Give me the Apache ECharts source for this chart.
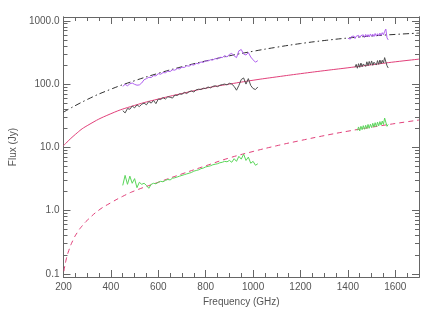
<!DOCTYPE html>
<html><head><meta charset="utf-8">
<script src="https://cdn.jsdelivr.net/npm/echarts@6/dist/echarts.min.js"></script>
<style>html,body{margin:0;padding:0;background:#fff}#c{width:436px;height:312px}</style>
</head><body><div id="c"></div>
<script>
// ---- data ----
const xMajorTicks = [200, 400, 600, 800, 1000, 1200, 1400, 1600];
const xMinorTicks = [250, 300, 350, 450, 500, 550, 650, 700, 750, 850, 900, 950, 1050, 1100, 1150, 1250, 1300, 1350, 1450, 1500, 1550, 1650];
const yMajorTicks = [0.1, 1, 10, 100, 1000];
const yMinorTicks = [0.2, 0.3, 0.4, 0.5, 0.6, 0.7, 0.8, 0.9, 2, 3, 4, 5, 6, 7, 8, 9, 20, 30, 40, 50, 60, 70, 80, 90, 200, 300, 400, 500, 600, 700, 800, 900];

const freqA = [450, 460, 470, 480, 490, 500, 510, 520, 530, 540, 550, 560, 570, 580, 590, 600, 610, 620, 630, 640, 650, 660, 670, 680, 690, 700, 710, 720, 730, 740, 750, 760, 770, 780, 790, 800, 810, 820, 830, 840, 850, 860, 870, 880, 890, 900, 910, 920, 930, 940, 950, 960, 970, 980, 990, 1000, 1010, 1020];
const freqB = [1400, 1405, 1410, 1415, 1420, 1425, 1430, 1435, 1440, 1445, 1450, 1455, 1460, 1465, 1470, 1475, 1480, 1485, 1490, 1495, 1500, 1505, 1510, 1515, 1520, 1525, 1530, 1535, 1540, 1545, 1550, 1555, 1560, 1565, 1570];

const purpleA = [92, 99, 94, 101, 104, 99, 96, 97, 104, 117, 122, 128, 127, 136, 135, 146, 143, 152, 151, 160, 158, 168, 166, 176, 174, 185, 183, 195, 192, 203, 200, 212, 210, 224, 220, 234, 232, 242, 240, 253, 250, 266, 262, 282, 268, 295, 305, 280, 262, 335, 352, 298, 288, 315, 268, 242, 222, 235];
const purpleB = [530, 560, 515, 565, 530, 575, 525, 570, 545, 590, 540, 585, 550, 600, 545, 610, 560, 605, 555, 620, 570, 615, 565, 630, 575, 625, 580, 640, 590, 650, 600, 680, 740, 540, 500];

const grayA = [38, 35, 41, 40, 45, 42, 47, 44, 48, 50, 47, 53, 50, 55, 49, 58, 57, 61, 58, 63, 62, 60, 67, 66, 70, 69, 74, 71, 76, 78, 75, 81, 83, 82, 86, 85, 90, 87, 92, 94, 91, 96, 98, 100, 97, 103, 100, 92, 80, 95, 118, 125, 100, 122, 95, 85, 82, 90];
const grayB = [185, 205, 178, 210, 184, 215, 188, 208, 222, 190, 225, 195, 228, 200, 232, 198, 222, 236, 200, 235, 205, 240, 210, 238, 215, 262, 275, 195, 180];

const greenA = [2.5, 3.6, 2.6, 3.5, 2.7, 3.2, 2.3, 2.8, 2.6, 2.7, 2.5, 2.25, 2.6, 2.7, 2.65, 2.8, 2.9, 2.85, 3.0, 3.1, 3.05, 3.25, 3.3, 3.4, 3.5, 3.6, 3.7, 3.8, 3.9, 4.0, 4.2, 4.3, 4.4, 4.6, 4.7, 4.9, 5.0, 5.1, 5.3, 5.4, 5.5, 5.7, 5.8, 6.0, 5.9, 6.2, 5.8, 6.6, 6.0, 7.2, 6.5, 7.8, 6.2, 7.0, 5.6, 6.0, 5.2, 5.5];
const greenB = [18.5, 21, 18.2, 21.5, 19, 22, 19.3, 22.3, 19.8, 23, 20, 23.2, 20.5, 24, 21, 24.5, 21.3, 25, 21.8, 25.5, 22.5, 26, 23, 29, 27, 21.5, 23];

const totalFreq = [200, 300, 400, 500, 600, 700, 800, 900, 1000, 1100, 1200, 1300, 1400, 1500, 1600, 1700];
const totalModel = [36, 57, 83, 113, 148, 188, 232, 280, 330, 383, 437, 488, 535, 576, 610, 640];
const gasFreq = [200, 250, 300, 400, 500, 600, 700, 800, 900, 1000, 1100, 1200, 1300, 1400, 1500, 1600, 1700];
const gasModel = [10.6, 16, 22, 34, 46, 58, 71, 86, 100, 115, 130, 146, 163, 181, 202, 225, 248];
const dustFreq = [202, 205, 210, 220, 240, 260, 280, 300, 350, 400, 450, 500, 600, 700, 800, 900, 1000, 1100, 1200, 1300, 1400, 1500, 1600, 1700];
const dustModel = [0.11, 0.13, 0.16, 0.22, 0.34, 0.46, 0.58, 0.7, 1.02, 1.33, 1.68, 2.05, 2.8, 3.8, 5.1, 6.8, 8.6, 10.6, 12.8, 15.3, 18.0, 20.8, 23.8, 27];

// ---- chart ----
const zip = (xs, ys) => ys.map((y, i) => [xs[i], y]);
const axisCol = '#666', textCol = '#555';
const font = 'Liberation Sans, Arial, sans-serif';

function xAx(pos, ticks, len, labels) {
  return {
    type: 'value', position: pos, min: 200, max: 1700,
    axisLine: { show: true, onZero: false, lineStyle: { color: axisCol, width: 1 } },
    axisTick: { show: true, inside: true, length: len, customValues: ticks, lineStyle: { color: axisCol } },
    axisLabel: labels ? { show: true, customValues: ticks, margin: 5, fontSize: 10, color: textCol, fontFamily: font, formatter: v => String(Math.round(v)) } : { show: false },
    splitLine: { show: false }
  };
}
function yAx(pos, ticks, len, labels) {
  return {
    type: 'log', logBase: 10, position: pos, min: 0.089, max: 1150,
    axisLine: { show: true, onZero: false, lineStyle: { color: axisCol, width: 1 } },
    axisTick: { show: true, inside: true, length: len, customValues: ticks, lineStyle: { color: axisCol } },
    axisLabel: labels ? { show: true, customValues: ticks, margin: 4, fontSize: 10, color: textCol, fontFamily: font, formatter: v => Number(v).toFixed(1) } : { show: false },
    splitLine: { show: false }, minorTick: { show: false }, minorSplitLine: { show: false }
  };
}

const xAxes = [xAx('bottom', xMajorTicks, 7, true), xAx('bottom', xMinorTicks, 4, false), xAx('top', xMajorTicks, 7, false), xAx('top', xMinorTicks, 4, false)];
xAxes[0].name = 'Frequency (GHz)';
xAxes[0].nameLocation = 'middle';
xAxes[0].nameGap = 17;
xAxes[0].nameTextStyle = { fontSize: 10, color: textCol, fontFamily: font };
const yAxes = [yAx('left', yMajorTicks, 7, true), yAx('left', yMinorTicks, 4, false), yAx('right', yMajorTicks, 7, false), yAx('right', yMinorTicks, 4, false)];
yAxes[0].name = 'Flux (Jy)';
yAxes[0].nameLocation = 'middle';
yAxes[0].nameGap = 37;
yAxes[0].nameTextStyle = { fontSize: 10, color: textCol, fontFamily: font };

function line(data, color, type, z) {
  return { type: 'line', data: data, showSymbol: false, symbol: 'none', smooth: false, z: z,
    lineStyle: { color: color, width: 1, type: type }, emphasis: { disabled: true } };
}

const purple = '#b060f0', pink = '#e2407a', green = '#5ad65a', gray = '#505050';
const series = [
  Object.assign(line(zip(totalFreq, totalModel), '#303030', [6, 3, 1.5, 3], 2), { smooth: true }),
  Object.assign(line(zip(gasFreq, gasModel), pink, 'solid', 2), { smooth: true }),
  Object.assign(line(zip(dustFreq, dustModel), pink, [5, 4], 2), { smooth: true }),
  line(zip(freqA, purpleA), purple, 'solid', 3),
  line(zip(freqB, purpleB), purple, 'solid', 3),
  line(zip(freqA, grayA), gray, 'solid', 3),
  line(zip(freqB.slice(6), grayB), gray, 'solid', 3),
  line(zip(freqA, greenA), green, 'solid', 3),
  line(zip(freqB.slice(8), greenB), green, 'solid', 3)
];

const chart = echarts.init(document.getElementById('c'), null, { renderer: 'canvas' });
chart.setOption({
  animation: false,
  backgroundColor: '#fff',
  grid: { left: 54, right: 17, top: 17, bottom: 35, containLabel: false },
  xAxis: xAxes,
  yAxis: yAxes,
  series: series
});
</script></body></html>
